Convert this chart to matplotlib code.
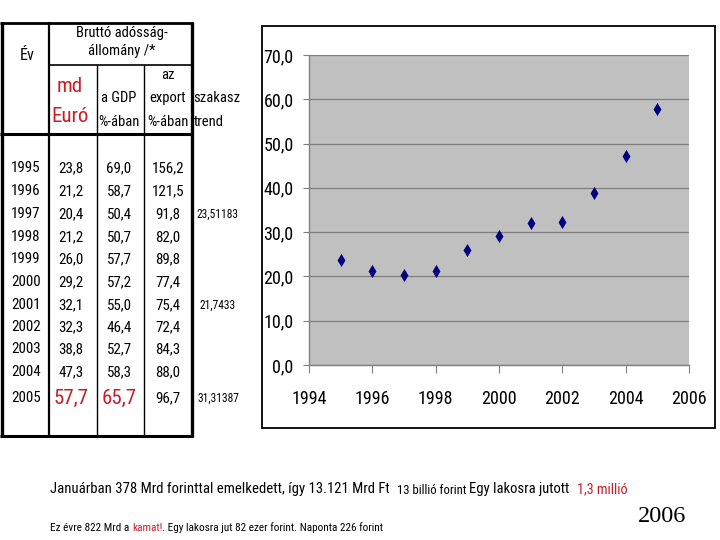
import os
import matplotlib
matplotlib.use("Agg")
import matplotlib.pyplot as plt
from matplotlib.ticker import FuncFormatter
from matplotlib.patches import Rectangle
from matplotlib.lines import Line2D
from matplotlib import font_manager as fm

# ---------------- data ----------------
years = [1995, 1996, 1997, 1998, 1999, 2000, 2001, 2002, 2003, 2004, 2005]
md_euro = [23.8, 21.2, 20.4, 21.2, 26.0, 29.2, 32.1, 32.3, 38.8, 47.3, 57.7]
gdp_pct = [69.0, 58.7, 50.4, 50.7, 57.7, 57.2, 55.0, 46.4, 52.7, 58.3, 65.7]
export_pct = [156.2, 121.5, 91.8, 82.0, 89.8, 77.4, 75.4, 72.4, 84.3, 88.0, 96.7]
trend_years = [1997, 2001, 2005]
trend_vals = ["23,51183", "21,7433", "31,31387"]
x_ticks = [1994, 1996, 1998, 2000, 2002, 2004, 2006]
y_ticks = [0, 10, 20, 30, 40, 50, 60, 70]

W, H = 720, 540
RED = '#C81E28'

# pick a condensed sans font if one is installed
files = [f.fname for f in fm.fontManager.ttflist]
narrow = None
for key in ['LiberationSansNarrow-Regular', 'RobotoCondensed-Regular',
            'DejaVuSansCondensed.ttf', 'OpenSans_Condensed-Regular',
            'OpenSansCondensed', 'NotoSans-Condensed', 'Condensed-Regular',
            'Narrow-Regular', 'Condensed.ttf']:
    hits = [p for p in files if key in os.path.basename(p)]
    if hits:
        narrow = hits[0]
        break


def FP(size):
    if narrow:
        return fm.FontProperties(fname=narrow, size=size)
    return fm.FontProperties(family=['Liberation Sans', 'DejaVu Sans'], size=size * 0.85)


fig = plt.figure(figsize=(W / 100, H / 100), dpi=100)
fig.patch.set_facecolor('white')
fig.canvas.draw()
renderer = fig.canvas.get_renderer()


def fx(px):
    return px / W


def fy(py):
    return 1 - py / H


def hline(x0, x1, y, lw):
    fig.add_artist(Line2D([fx(x0), fx(x1)], [fy(y), fy(y)], color='black', lw=lw,
                          transform=fig.transFigure, solid_capstyle='butt'))


def vline(x, y0, y1, lw):
    fig.add_artist(Line2D([fx(x), fx(x)], [fy(y0), fy(y1)], color='black', lw=lw,
                          transform=fig.transFigure, solid_capstyle='butt'))


def txt(x, y, s, size, color='black', ha='center'):
    return fig.text(fx(x), fy(y), s, fontproperties=FP(size), color=color, ha=ha, va='center')


def fit(x0, x1, y, s, color='black'):
    t = txt(x0, y, s, 10, color, ha='left')
    w = t.get_window_extent(renderer).width
    t.set_fontsize(10 * (x1 - x0) / w)
    return t


def fmt(v):
    return f"{v:.1f}".replace('.', ',')


# ---------------- table ----------------
hline(0, 193, 23, 2.0)
hline(49, 193, 65, 1.2)
hline(0, 193, 134, 2.2)
hline(0, 193, 436, 2.2)
vline(1.5, 22, 437, 2.4)
vline(49, 22, 437, 1.6)
vline(97, 65, 437, 1.0)
vline(144, 65, 437, 1.0)
vline(192, 22, 437, 2.4)

HS = 10.5
txt(27, 55, "Év", 11.5)
txt(122, 33, "Bruttó adósság-", HS)
txt(122, 51, "állomány /*", HS)
txt(70, 86, "md", 15, RED)
txt(70, 116, "Euró", 15, RED)
txt(119, 98, "a GDP", HS)
txt(119, 122, "%-ában", HS)
txt(168, 75, "az", HS)
txt(168, 98, "export", HS)
txt(168, 122, "%-ában", HS)
txt(193.5, 98, "szakasz", HS, ha='left')
txt(193.5, 122, "trend", HS, ha='left')

RS = 10.8
row_y = [168, 191, 214, 237, 259, 282, 305, 327, 349, 372, 398]
for i, yr in enumerate(years):
    yy = row_y[i]
    last = (i == len(years) - 1)
    txt(26, yy, str(yr), RS)
    if last:
        txt(71, yy, fmt(md_euro[i]), 15, RED)
        txt(119, yy, fmt(gdp_pct[i]), 15, RED)
    else:
        txt(71, yy, fmt(md_euro[i]), RS)
        txt(119, yy, fmt(gdp_pct[i]), RS)
    txt(168, yy, fmt(export_pct[i]), RS)
for ty, tv in zip(trend_years, trend_vals):
    txt(218, row_y[years.index(ty)], tv, 8.3)

# ---------------- chart ----------------
fig.add_artist(Rectangle((fx(262), fy(428)), fx(715) - fx(262), fy(26) - fy(428),
                         transform=fig.transFigure, facecolor='white',
                         edgecolor='black', lw=1.3, zorder=0))

ax = fig.add_axes([fx(309), fy(365), fx(689) - fx(309), fy(55) - fy(365)])
ax.set_facecolor('#C0C0C0')
ax.scatter(years, md_euro, marker='d', s=45, color='#000080', zorder=3, linewidths=0)
ax.set_xlim(1994, 2006)
ax.set_ylim(0, 70)
ax.set_xticks(x_ticks)
ax.set_yticks(y_ticks)
ax.yaxis.set_major_formatter(FuncFormatter(lambda v, p: fmt(v)))
ax.grid(axis='y', color='#7f7f7f', lw=0.9)
ax.set_axisbelow(True)
for s in ['top', 'right']:
    ax.spines[s].set_visible(False)
for s in ['left', 'bottom']:
    ax.spines[s].set_color('#808080')
    ax.spines[s].set_linewidth(1.0)
ax.tick_params(axis='x', length=6, color='#808080', pad=12)
ax.tick_params(axis='y', length=4, color='#808080', pad=7)
for lbl in ax.get_xticklabels() + ax.get_yticklabels():
    lbl.set_fontproperties(FP(13))

# ---------------- bottom text ----------------
fit(50, 388, 489, "Januárban 378 Mrd forinttal emelkedett, így 13.121 Mrd Ft")
fit(397, 466, 490, "13 billió forint")
fit(469, 569, 489, "Egy lakosra jutott")
fit(577, 628, 489, "1,3 millió", RED)
fig.text(fx(662), fy(517), "2006", fontsize=17.5, ha='center', va='center',
         family=['Liberation Serif', 'DejaVu Serif'])

# chained last line, scaled to span the reference width
pieces = [("Ez évre 822 Mrd a ", 'black'), ("kamat!", RED),
          (". Egy lakosra jut 82 ezer forint. Naponta 226 forint", 'black')]
base = 8
total = 0
for piece, col in pieces:
    t = txt(0, 0, piece, base)
    total += t.get_window_extent(renderer).width
    t.remove()
size = base * (382 - 50) / total
x = 50
for piece, col in pieces:
    t = txt(x, 528, piece, size, col, ha='left')
    x += t.get_window_extent(renderer).width

fig.savefig("out.png", dpi=100)
